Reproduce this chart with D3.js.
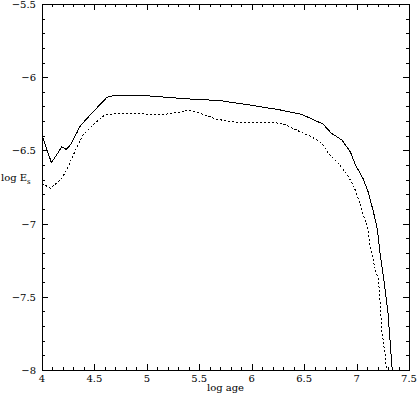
<!DOCTYPE html>
<html>
<head>
<meta charset="utf-8">
<script src="https://cdn.jsdelivr.net/npm/d3@7"></script>
<style>
  html, body { margin: 0; padding: 0; background: #fff; }
  text { font-family: "DejaVu Serif", serif; font-size: 10px; fill: #000; }
</style>
</head>
<body>
<div id="chart"></div>
<script>
// --- data ---
const solidAge = [4.0, 4.09, 4.19, 4.23, 4.27, 4.33, 4.36, 4.43, 4.52, 4.62, 4.7, 4.98, 5.41, 5.7, 5.98, 6.17, 6.24, 6.46, 6.49, 6.68, 6.76, 6.86, 6.94, 6.99, 7.06, 7.11, 7.16, 7.2, 7.22, 7.26, 7.3, 7.335, 7.34];
const solidE   = [-6.395, -6.584, -6.475, -6.493, -6.463, -6.383, -6.338, -6.281, -6.212, -6.137, -6.122, -6.126, -6.149, -6.16, -6.19, -6.212, -6.219, -6.251, -6.258, -6.32, -6.383, -6.429, -6.509, -6.6, -6.69, -6.782, -6.918, -7.044, -7.18, -7.385, -7.613, -7.954, -8.0];
const dotAge = [4.0, 4.08, 4.12, 4.19, 4.25, 4.32, 4.39, 4.46, 4.54, 4.6, 4.71, 4.87, 5.13, 5.3, 5.4, 5.51, 5.67, 5.86, 6.08, 6.21, 6.33, 6.46, 6.56, 6.67, 6.73, 6.81, 6.89, 6.97, 7.03, 7.08, 7.11, 7.13, 7.18, 7.21, 7.24, 7.27, 7.28, 7.285];
const dotE   = [-6.725, -6.759, -6.736, -6.69, -6.611, -6.497, -6.395, -6.345, -6.292, -6.258, -6.247, -6.247, -6.258, -6.24, -6.226, -6.247, -6.288, -6.308, -6.311, -6.308, -6.327, -6.372, -6.402, -6.452, -6.52, -6.577, -6.645, -6.736, -6.861, -6.975, -7.044, -7.158, -7.317, -7.385, -7.727, -7.886, -7.954, -8.0];
const xTicks = [4, 4.5, 5, 5.5, 6, 6.5, 7, 7.5];
const yTicks = [-5.5, -6, -6.5, -7, -7.5, -8];

const W = 417, H = 395;
const frame = { left: 42, right: 409, top: 4, bottom: 370 };

const svg = d3.select("#chart").append("svg")
    .attr("width", W).attr("height", H);

const x = d3.scaleLinear().domain([4, 7.5]).range([frame.left, frame.right]);
const y = d3.scaleLinear().domain([-8, -5.5]).range([frame.bottom, frame.top]);

const fmt = v => String(v).replace("-", "\u2212");

// minor ticks every 0.1
const xMinor = d3.range(40, 76).map(v => v / 10);
const yMinor = d3.range(-80, -54).map(v => v / 10);
const isMajor = v => Math.abs(v * 2 - Math.round(v * 2)) < 1e-6;

const ticks = svg.append("g").attr("stroke", "#000").attr("stroke-width", 1).attr("shape-rendering", "crispEdges");

xMinor.forEach(v => {
    const len = isMajor(v) ? 6 : 3;
    const px = Math.round(x(v)) + 0.5;
    ticks.append("line").attr("x1", px).attr("x2", px).attr("y1", frame.bottom).attr("y2", frame.bottom - len);
    ticks.append("line").attr("x1", px).attr("x2", px).attr("y1", frame.top).attr("y2", frame.top + len);
});
yMinor.forEach(v => {
    const len = isMajor(v) ? 6 : 3;
    const py = Math.round(y(v)) + 0.5;
    ticks.append("line").attr("y1", py).attr("y2", py).attr("x1", frame.left).attr("x2", frame.left + len);
    ticks.append("line").attr("y1", py).attr("y2", py).attr("x1", frame.right).attr("x2", frame.right - len);
});

svg.append("rect")
    .attr("x", frame.left + 0.5).attr("y", frame.top + 0.5)
    .attr("width", frame.right - frame.left).attr("height", frame.bottom - frame.top)
    .attr("fill", "none").attr("stroke", "#000").attr("shape-rendering", "crispEdges");

// tick labels
svg.append("g").selectAll("text").data(xTicks).join("text")
    .attr("x", d => x(d)).attr("y", frame.bottom + 12)
    .attr("text-anchor", "middle")
    .text(d => fmt(d));

svg.append("g").selectAll("text").data(yTicks).join("text")
    .attr("x", frame.left - 6).attr("y", d => y(d) + 4)
    .attr("text-anchor", "end")
    .text(d => fmt(d));

// axis titles
svg.append("text").attr("x", (frame.left + frame.right) / 2).attr("y", H - 4)
    .attr("text-anchor", "middle").text("log age");

const yl = svg.append("text").attr("x", 1).attr("y", 181);
yl.append("tspan").text("log E");
yl.append("tspan").attr("dy", 3).style("font-size", "7px").text("s");

// curves
svg.append("clipPath").attr("id", "clip").append("rect")
    .attr("x", frame.left).attr("y", frame.top)
    .attr("width", frame.right - frame.left).attr("height", frame.bottom - frame.top);

const line = d3.line().x(d => x(d[0])).y(d => y(d[1]));
const plot = svg.append("g").attr("clip-path", "url(#clip)").attr("shape-rendering", "crispEdges");

plot.append("path")
    .datum(d3.zip(solidAge, solidE))
    .attr("d", line)
    .attr("fill", "none").attr("stroke", "#000").attr("stroke-width", 1);

plot.append("path")
    .datum(d3.zip(dotAge, dotE))
    .attr("d", line)
    .attr("fill", "none").attr("stroke", "#000").attr("stroke-width", 1)
    .attr("stroke-dasharray", "2,2");
</script>
</body>
</html>
